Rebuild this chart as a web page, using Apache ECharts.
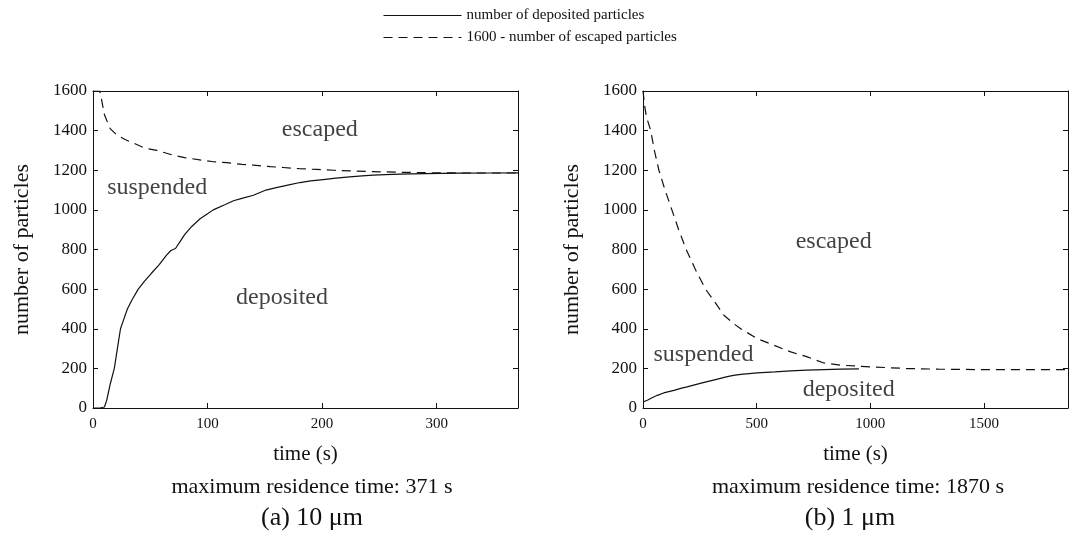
<!DOCTYPE html>
<html>
<head>
<meta charset="utf-8">
<script src="https://cdn.jsdelivr.net/npm/echarts@6/dist/echarts.min.js"></script>
<style>
html,body{margin:0;padding:0;background:#fff;}
#chart{width:1080px;height:540px;}
</style>
</head>
<body>
<div id="chart"></div>
<script>
// ---- data ----
const seriesNames = ['number of deposited particles', '1600 - number of escaped particles'];

// (a) 10 um : [time (s), particles]
const depositedA = [[0,0],[6,0],[10,5],[12,40],[15,120],[18.6,200],[21,290],[24,400],[27,450],[30,500],[34,545],[39.5,600],[45,640],[51,680],[58,725],[64,770],[68,795],[72,805],[76,840],[80,875],[86,915],[93.5,955],[100,980],[105,1000],[115,1026],[122.6,1046],[130,1058],[140,1074],[151,1100],[160,1112],[170,1125],[180.7,1138],[190,1146],[201,1153],[212,1160],[224,1167],[235,1172],[244.6,1175],[255,1178],[267.8,1180],[290,1183],[320,1185],[350,1186],[371,1187]];
const escapedA = [[0,1600],[6,1600],[8,1540],[10,1480],[12.8,1440],[15,1410],[21,1377],[28,1355],[35,1338],[45,1312],[55.8,1300],[70,1276],[80,1264],[96,1250],[105,1243],[117,1238],[130,1230],[140,1226],[155,1218],[166,1214],[180,1208],[195,1204],[210,1200],[224,1197],[240,1194],[253,1192],[275,1189],[297,1187],[330,1186],[371,1186]];

// (b) 1 um
const depositedB = [[0,30],[8,35],[19,39],[40,52],[63,64],[91,76],[136,89],[170,100],[194,107],[260,127],[310,141],[371,158],[398,165],[430,170],[503,177],[580,182],[650,187],[720,191],[796,194],[870,196],[950,197]];
const escapedB = [[0,1600],[3,1600],[8,1520],[15,1470],[34,1400],[50,1300],[70,1200],[97,1100],[127,1000],[157,900],[190,800],[230,700],[275,600],[310,545],[356,468],[400,425],[430,400],[503,350],[576,317],[650,283],[723,258],[796,227],[870,216],[1016,207],[1163,199],[1300,196],[1456,194],[1870,194]];

// region labels: [name, time, particles]
const regionLabelsA = [['escaped',198,1403],['suspended',56,1110],['deposited',165,555]];
const regionLabelsB = [['escaped',839,838],['suspended',266,267],['deposited',905,91]];

const xMaxA = 371, xIntA = 100;
const xMaxB = 1870, xIntB = 500;
const yMax = 1600, yInt = 200;

const captionsA = ['maximum residence time: 371 s', '(a) 10 \u03bcm'];
const captionsB = ['maximum residence time: 1870 s', '(b) 1 \u03bcm'];

// ---- chart ----
const FONT = '"Liberation Serif","Times New Roman",serif';
const INK = '#111';
const chart = echarts.init(document.getElementById('chart'), null, {renderer:'canvas'});

function xAx(gi, max, interval, top) {
  return {
    type:'value', gridIndex:gi, min:0, max:max, interval:interval,
    position: top ? 'top' : 'bottom',
    name: top ? '' : 'time (s)', nameLocation:'middle', nameGap:36,
    nameTextStyle:{fontFamily:FONT, fontSize:21, color:INK},
    axisLine:{show:true, onZero:false, lineStyle:{color:INK, width:1}},
    axisTick:{show:true, inside:true, length:5, lineStyle:{color:INK}},
    axisLabel:{show:!top, showMaxLabel:false, margin:9, fontFamily:FONT, fontSize:15, color:INK, formatter: v => String(v)},
    splitLine:{show:false}
  };
}
function yAx(gi, right) {
  return {
    type:'value', gridIndex:gi, min:0, max:yMax, interval:yInt,
    position: right ? 'right' : 'left',
    name: right ? '' : 'number of particles', nameLocation:'middle', nameGap:60,
    nameTextStyle:{fontFamily:FONT, fontSize:22, color:INK},
    axisLine:{show:true, onZero:false, lineStyle:{color:INK, width:1}},
    axisTick:{show:true, inside:true, length:5, lineStyle:{color:INK}},
    axisLabel:{show:!right, margin:6, fontFamily:FONT, fontSize:17, color:INK, formatter: v => String(v)},
    splitLine:{show:false}
  };
}
function lineSeries(name, data, xi, yi, dashed) {
  return {
    type:'line', name:name, data:data, xAxisIndex:xi, yAxisIndex:yi,
    showSymbol:false, symbol:'none', smooth:false, silent:true, animation:false,
    lineStyle:{color:INK, width:1.2, type: dashed ? [9,6] : 'solid'},
    itemStyle:{color:INK}
  };
}
function labelSeries(labels, xi, yi) {
  return {
    type:'scatter', xAxisIndex:xi, yAxisIndex:yi, symbolSize:0, silent:true, animation:false,
    data: labels.map(l => ({name:l[0], value:[l[1], l[2]]})),
    label:{show:true, position:'inside', formatter:p => p.name, fontFamily:FONT, fontSize:24, color:INK}
  };
}
function caption(txt, x, y, size) {
  return {type:'text', x:x, y:y, style:{text:txt, fontFamily:FONT, fontSize:size, fill:INK, align:'center', verticalAlign:'middle'}};
}

chart.setOption({
  backgroundColor:'#fff',
  animation:false,
  legend:{
    data:seriesNames, orient:'vertical', left:383, top:8,
    itemWidth:78, itemHeight:12, itemGap:7, padding:0,
    itemStyle:{opacity:0},
    lineStyle:{width:1},
    textStyle:{fontFamily:FONT, fontSize:15, color:INK},
    selectedMode:false
  },
  grid:[
    {left:93, top:91, width:425, height:317},
    {left:643, top:91, width:425, height:317}
  ],
  xAxis:[xAx(0,xMaxA,xIntA,false), xAx(1,xMaxB,xIntB,false), xAx(0,xMaxA,xIntA,true), xAx(1,xMaxB,xIntB,true)],
  yAxis:[yAx(0,false), yAx(1,false), yAx(0,true), yAx(1,true)],
  series:[
    lineSeries(seriesNames[0], depositedA, 0, 0, false),
    lineSeries(seriesNames[1], escapedA, 0, 0, true),
    lineSeries(seriesNames[0], depositedB, 1, 1, false),
    lineSeries(seriesNames[1], escapedB, 1, 1, true),
    labelSeries(regionLabelsA, 0, 0),
    labelSeries(regionLabelsB, 1, 1)
  ],
  graphic:[
    caption(captionsA[0], 312, 487, 22),
    caption(captionsA[1], 312, 518, 26),
    caption(captionsB[0], 858, 487, 22),
    caption(captionsB[1], 850, 518, 26)
  ]
});
</script>
</body>
</html>
